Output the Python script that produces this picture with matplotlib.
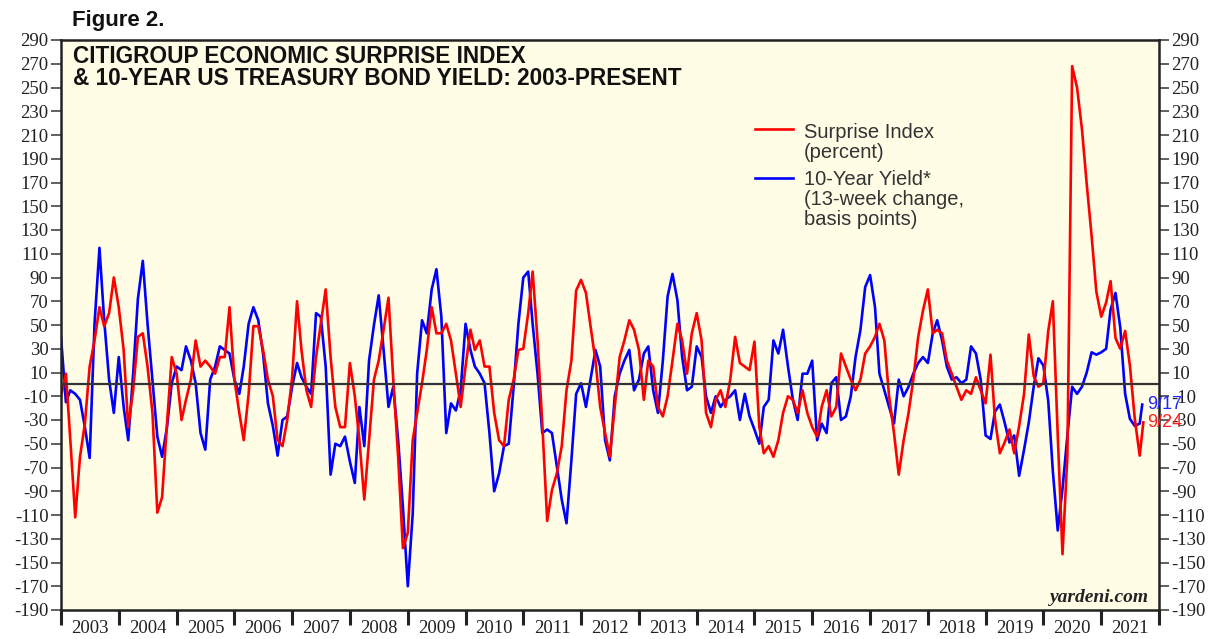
import numpy as np
import pandas as pd
import matplotlib
matplotlib.use("Agg")
import matplotlib.pyplot as plt
from matplotlib.lines import Line2D

plt.rcParams['axes.unicode_minus'] = False

# monthly readings (first of month), 2003-01 .. 2021-09, plus the last weekly point
surprise = {
    2003: [-10, 9, -47, -112, -61, -33, 15, 37, 65, 49, 60, 90],
    2004: [65, 29, -36, -5, 40, 43, 15, -24, -108, -95, -33, 23],
    2005: [9, -30, -13, 4, 37, 15, 20, 15, 9, 23, 23, 65],
    2006: [4, -24, -47, -8, 49, 49, 29, 4, -10, -47, -52, -30],
    2007: [6, 70, 29, -5, -19, 23, 51, 80, 23, -19, -36, -36],
    2008: [18, -10, -47, -97, -47, 4, 20, 46, 73, 4, -61, -138],
    2009: [-125, -47, -24, 1, 29, 65, 43, 43, 51, 37, 9, -19],
    2010: [15, 46, 29, 37, 15, 15, -24, -47, -52, -13, 4, 29],
    2011: [30, 60, 95, 37, -33, -115, -89, -75, -52, -5, 20, 79],
    2012: [88, 77, 49, 20, -19, -41, -61, -19, 23, 37, 54, 46],
    2013: [29, -13, 20, 15, -19, -27, -10, 20, 51, 37, 9, 43],
    2014: [60, 37, -24, -36, -13, -5, -19, 4, 40, 18, 15, 12],
    2015: [36, -36, -58, -52, -61, -47, -24, -10, -13, -24, -5, -24],
    2016: [-36, -44, -19, -5, -27, -19, 26, 15, 4, -5, 4, 26],
    2017: [32, 40, 51, 37, -10, -41, -76, -47, -24, 4, 40, 62],
    2018: [80, 43, 46, 43, 20, 9, -2, -13, -5, -8, 6, -5],
    2019: [-16, 25, -29, -58, -49, -38, -58, -35, -8, 42, 7, -2],
    2020: [1, 45, 70, -43, -143, -60, 268, 250, 215, 169, 125, 78],
    2021: [57, 69, 87, 39, 30, 45, 16, -29, -60],
}
yield_chg = {
    2003: [40, -15, -5, -8, -13, -36, -62, 51, 115, 54, 4, -24],
    2004: [23, -19, -47, 9, 72, 104, 51, 4, -44, -61, -36, 1],
    2005: [15, 12, 32, 20, 1, -41, -55, 4, 15, 32, 29, 26],
    2006: [4, -8, 15, 51, 65, 54, 26, -16, -35, -60, -30, -27],
    2007: [-2, 18, 6, -2, -8, 60, 57, 15, -76, -50, -52, -44],
    2008: [-65, -83, -19, -52, 20, 50, 75, 29, -19, -2, -47, -103],
    2009: [-170, -109, 9, 54, 43, 80, 97, 57, -41, -16, -22, -5],
    2010: [51, 29, 15, 9, 1, -41, -90, -75, -52, -50, -2, 51],
    2011: [90, 95, 51, 9, -41, -38, -41, -69, -97, -117, -64, -8],
    2012: [1, -19, 4, 29, 15, -47, -64, -10, 9, 20, 29, -5],
    2013: [4, 26, 32, -5, -24, 20, 74, 93, 71, 23, -5, -2],
    2014: [32, 23, -10, -24, -10, -19, -13, -10, -5, -30, -8, -27],
    2015: [-38, -50, -19, -13, 37, 26, 46, 15, -13, -30, 9, 9],
    2016: [20, -47, -33, -41, 1, 6, -30, -27, -10, 23, 46, 82],
    2017: [92, 65, 9, -5, -19, -33, 4, -10, -2, 9, 18, 23],
    2018: [18, 43, 54, 37, 15, 4, 6, 1, 4, 32, 26, 4],
    2019: [-43, -46, -23, -17, -32, -49, -43, -77, -55, -32, -2, 22],
    2020: [16, -14, -73, -123, -88, -43, -2, -8, -2, 10, 27, 25],
    2021: [27, 30, 63, 77, 48, -8, -29, -35, -33],
}
surprise_last = ("2021-09-24", -32)
yield_last = ("2021-09-17", -17)

months = pd.date_range("2003-01-01", "2021-09-01", freq="MS")
red = np.concatenate([surprise[y] for y in sorted(surprise)] + [[surprise_last[1]]])
blue = np.concatenate([yield_chg[y] for y in sorted(yield_chg)] + [[yield_last[1]]])
red_x = months.append(pd.DatetimeIndex([surprise_last[0]]))
blue_x = months.append(pd.DatetimeIndex([yield_last[0]]))

years = list(range(2003, 2023))
yticks = list(range(-190, 291, 20))

W, H = 1219, 639
fig = plt.figure(figsize=(W / 100, H / 100), dpi=100)
fig.patch.set_facecolor("white")
ax = fig.add_axes([61 / W, 1 - 610 / H, 1098 / W, 570 / H])
ax.set_facecolor("#FFFDE6")

ax.plot(blue_x, blue, color="#0000FF", lw=1.9, zorder=2)
ax.plot(red_x, red, color="#FF0000", lw=1.9, zorder=2.5)
ax.axhline(0, color="#333333", lw=1.6, zorder=3)

ax.set_ylim(-190, 290)
ax.set_xlim(pd.Timestamp("2003-01-01"), pd.Timestamp("2022-01-01"))

serif = "Liberation Serif"
ax.set_yticks(yticks)
ax.set_yticklabels([str(v) for v in yticks], fontfamily=serif, fontsize=13.5, color="#222222")
ax.tick_params(axis="y", which="major", left=True, right=True, labelleft=True, labelright=True,
               direction="out", length=7, width=1.2, color="#444444", pad=2)

ax.set_xticks([pd.Timestamp(f"{y}-01-01") for y in years])
ax.set_xticklabels([])
ax.set_xticks([pd.Timestamp(f"{y}-07-02") for y in years[:-1]], minor=True)
ax.set_xticklabels([str(y) for y in years[:-1]], minor=True, fontfamily=serif, fontsize=13.5,
                   color="#222222")
ax.tick_params(axis="x", which="major", direction="out", length=11, width=2.2, color="#222222")
ax.tick_params(axis="x", which="minor", length=0, pad=7)

for s in ax.spines.values():
    s.set_linewidth(1.8)
    s.set_color("#222222")


def fx(px):
    return px / W


def fy(py):
    return 1 - py / H


fig.text(fx(72), fy(26), "Figure 2.", fontsize=16, fontweight="bold",
         fontfamily="Liberation Sans", va="baseline", ha="left", color="#111111")

title_lines = ["CITIGROUP ECONOMIC SURPRISE INDEX", "& 10-YEAR US TREASURY BOND YIELD: 2003-PRESENT"]
for i, line in enumerate(title_lines):
    fig.text(fx(73), fy(63 + 22 * i), line, fontsize=16.3, fontweight="bold",
             fontfamily="Liberation Sans", va="baseline", ha="left", color="#111111")

# legend
fig.add_artist(Line2D([fx(755), fx(793)], [fy(129), fy(129)], color="#FF0000", lw=1.9))
fig.add_artist(Line2D([fx(755), fx(793)], [fy(178), fy(178)], color="#0000FF", lw=1.9))
legend_red = ["Surprise Index", "(percent)"]
legend_blue = ["10-Year Yield*", "(13-week change,", "basis points)"]
for i, line in enumerate(legend_red):
    fig.text(fx(804), fy(138 + 20 * i), line, fontsize=14.5, fontfamily="Liberation Sans",
             va="baseline", ha="left", color="#333333")
for i, line in enumerate(legend_blue):
    fig.text(fx(804), fy(185 + 20 * i), line, fontsize=14.5, fontfamily="Liberation Sans",
             va="baseline", ha="left", color="#333333")

ax.annotate("9/17", (blue_x[-1], blue[-1]), xytext=(5, 0), textcoords="offset pixels",
            color="#2222FF", fontsize=13, fontfamily="Liberation Sans", va="center", ha="left",
            annotation_clip=False, zorder=5)
ax.annotate("9/24", (red_x[-1], red[-1]), xytext=(4, 0), textcoords="offset pixels",
            color="#FF2222", fontsize=13, fontfamily="Liberation Sans", va="center", ha="left",
            annotation_clip=False, zorder=5)

ax.text(1 - 10 / 1098, 12 / 570, "yardeni.com", transform=ax.transAxes, fontsize=14,
        fontfamily=serif, fontweight="bold", fontstyle="italic", ha="right", va="center",
        color="#222222")

fig.savefig("out.png", dpi=100)
